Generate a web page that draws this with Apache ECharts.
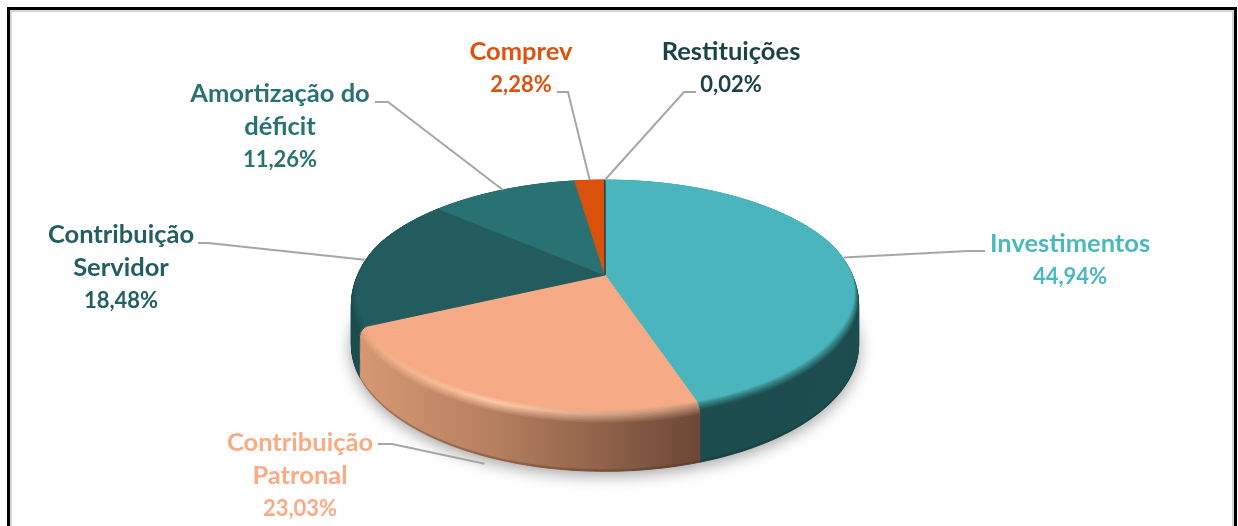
<!DOCTYPE html>
<html>
<head>
<meta charset="utf-8">
<style>html,body{margin:0;padding:0;background:#fff}#c{width:1238px;height:526px}</style>
<script src="https://cdn.jsdelivr.net/npm/echarts@6/dist/echarts.min.js"></script>
</head>
<body>
<div id="c"></div>
<script>
// ---- data ----
const categories = ['Investimentos', 'Contribuição\nPatronal', 'Contribuição\nServidor', 'Amortização do\ndéficit', 'Comprev', 'Restituições'];
const shares = [44.94, 23.03, 18.48, 11.26, 2.28, 0.02];

// ---- styles ----
const topColors = ['#4ab5bc', '#f6aa85', '#235c5e', '#297173', '#d9510a', '#1d4648'];
const wallColors = ['#1d4d4f', '#b57f60', '#1b4d4f', '#1d5052', '#8a3a0a', '#12302f'];
const labelColors = ['#4ab8bf', '#f9ab85', '#235e60', '#297173', '#df520e', '#1b4346'];

// ---- layout of labels and leader elbows ----
const labelX = [1070, 300, 121, 280, 521, 731];
const labelY = [260, 476, 268, 127, 68.5, 68.5];
const leaderFromX = [985, 378, 198, 375, 557, 696];
const leaderFromY = [251, 444, 243, 102, 92, 92];
const leaderElbowX = [968, 392, 208, 388, 568, 684];
const leaderElbowY = [251, 444, 243, 102, 92, 92];

// ---- projection of the tilted disc ----
const CX = 605, CY = 275, RX = 249, RY = 113, PERSP = 0.19, DEPTH = 46;
const BEVEL_H = 0.16, BEVEL_R = 0.03, BEVEL_LAYERS = 10, WALL_LAYERS = 40;
const SALMON_X0 = 360, SALMON_X1 = 698;

function project(deg, r, h) {
  const a = deg * Math.PI / 180;
  const u = Math.sin(a) * r, v = -Math.cos(a) * r;
  const w = 1 - PERSP * v;
  return [CX + RX * u / w, CY + (RY * v + DEPTH * h) / w];
}
function hex(c) { return [1, 3, 5].map(i => parseInt(c.substr(i, 2), 16)); }
function mix(a, b, t) {
  const A = hex(a), B = hex(b);
  return 'rgb(' + A.map((x, i) => Math.round(x + (B[i] - x) * t)).join(',') + ')';
}
function toHex(rgb) {
  const m = rgb.match(/\d+/g).map(Number);
  return '#' + m.map(x => x.toString(16).padStart(2, '0')).join('');
}
const total = shares.reduce((s, x) => s + x, 0);
const starts = [];
shares.reduce((s, x, i) => { starts[i] = s; return s + x; }, 0);
const startDeg = i => starts[i] / total * 360;
const endDeg = i => (starts[i] + shares[i]) / total * 360;

function sectorPoints(i, rFn, h) {
  const a0 = startDeg(i), a1 = endDeg(i);
  const n = Math.max(1, Math.ceil((a1 - a0) / 1.5));
  const pts = [project(0, 0, h)];
  for (let k = 0; k <= n; k++) {
    const d = a0 + (a1 - a0) * k / n;
    pts.push(project(d, rFn(d), h));
  }
  return pts;
}
// the rounded edge only shows on the near half of the disc
function bevelWidth(d) {
  const v = -Math.cos(d * Math.PI / 180);
  return BEVEL_R * Math.min(1, Math.max(0, (v + 0.3) / 0.8));
}
function salmonFill(t, dark) {
  const H = ['#f0a880', '#fdcaa8', '#bb8b6f'];
  const W = ['#d69873', '#b57f60', '#6d4835'];
  const stops = [0, 0.4, 1].map((o, j) => {
    let c = t < 0.4 ? mix(topColors[1], H[j], t / 0.4) : mix(H[j], W[j], (t - 0.4) / 0.6);
    if (dark) c = mix(toHex(c), '#3a2418', dark);
    return { offset: o, color: c };
  });
  return new echarts.graphic.LinearGradient(SALMON_X0, 0, SALMON_X1, 0, stops, true);
}
function layerFill(i, t, dark) {
  if (i === 1) return salmonFill(t, dark);
  let c = mix(topColors[i], wallColors[i], Math.min(1, t * 1.4));
  if (dark) c = mix(toHex(c), '#0c2526', dark);
  return c;
}
function poly(points, fill, z2) {
  return { type: 'polygon', z2, shape: { points }, style: { fill, stroke: fill, lineWidth: 1 }, silent: true };
}

function renderSlice(params) {
  const i = params.dataIndex;
  const children = [];
  let z = 10;
  for (let k = 0; k <= WALL_LAYERS; k++) {
    const h = 1 - (1 - BEVEL_H) * k / WALL_LAYERS;
    const dark = k < 2 ? 0.3 : 0;
    children.push(poly(sectorPoints(i, () => 1, h), layerFill(i, 1, dark), z++));
  }
  for (let k = BEVEL_LAYERS - 1; k >= 1; k--) {
    const t = k / BEVEL_LAYERS;
    const q = t * Math.PI / 2;
    const rFn = d => 1 - bevelWidth(d) * (1 - Math.sin(q));
    const hb = BEVEL_H * (1 - Math.cos(q));
    children.push(poly(sectorPoints(i, rFn, hb), layerFill(i, t, 0), z++));
  }
  children.push(poly(sectorPoints(i, d => 1 - bevelWidth(d), 0), topColors[i], z++));
  return { type: 'group', children };
}

function renderShadow() {
  const pts = [];
  for (let d = 0; d < 360; d += 3) pts.push(project(d, 1, 1));
  return {
    type: 'polygon', z2: 1, silent: true, shape: { points: pts },
    style: { fill: '#c8c8c8', shadowBlur: 16, shadowColor: 'rgba(0,0,0,0.38)', shadowOffsetY: 4 }
  };
}

function renderLabel(params) {
  const i = params.dataIndex;
  const mid = (startDeg(i) + endDeg(i)) / 2;
  const near = -Math.cos(mid * Math.PI / 180) > 0.5;
  const anchor = project(mid, near ? 1.01 : 1, near ? 1.1 : 0);
  const name = categories[i].split('\n').map(s => '{n|' + s + '}').join('\n');
  const text = name + '\n{p|' + shares[i].toFixed(2).replace('.', ',') + '%}';
  const base = { fill: labelColors[i], fontFamily: 'Lato', fontWeight: 'bold', lineHeight: 33 };
  return {
    type: 'group',
    children: [
      {
        type: 'polyline', z2: 200, silent: true,
        shape: { points: [[leaderFromX[i], leaderFromY[i]], [leaderElbowX[i], leaderElbowY[i]], anchor] },
        style: { fill: 'none', stroke: '#a6a6a6', lineWidth: 2 }
      },
      {
        type: 'text', z2: 201, silent: true, x: labelX[i], y: labelY[i],
        style: {
          text, align: 'center', verticalAlign: 'middle',
          rich: {
            n: Object.assign({ fontSize: 25.5 }, base),
            p: Object.assign({ fontSize: 22 }, base)
          }
        }
      }
    ]
  };
}

const chart = echarts.init(document.getElementById('c'), null, { renderer: 'canvas' });
chart.setOption({
  animation: false,
  backgroundColor: '#ffffff',
  graphic: [
    { type: 'rect', z: 0, silent: true, shape: { x: 11, y: 11, width: 1222, height: 560 }, style: { fill: 'none', stroke: '#d4d4d4', lineWidth: 2 } },
    { type: 'rect', z: 0, silent: true, shape: { x: 8.5, y: 8.5, width: 1227, height: 560 }, style: { fill: 'none', stroke: '#000000', lineWidth: 3 } }
  ],
  series: [
    { type: 'custom', coordinateSystem: 'none', z: 2, data: [0], renderItem: renderShadow },
    { type: 'custom', coordinateSystem: 'none', z: 3, data: shares, renderItem: renderSlice },
    { type: 'custom', coordinateSystem: 'none', z: 4, data: shares, renderItem: renderLabel }
  ]
});
</script>
</body>
</html>
